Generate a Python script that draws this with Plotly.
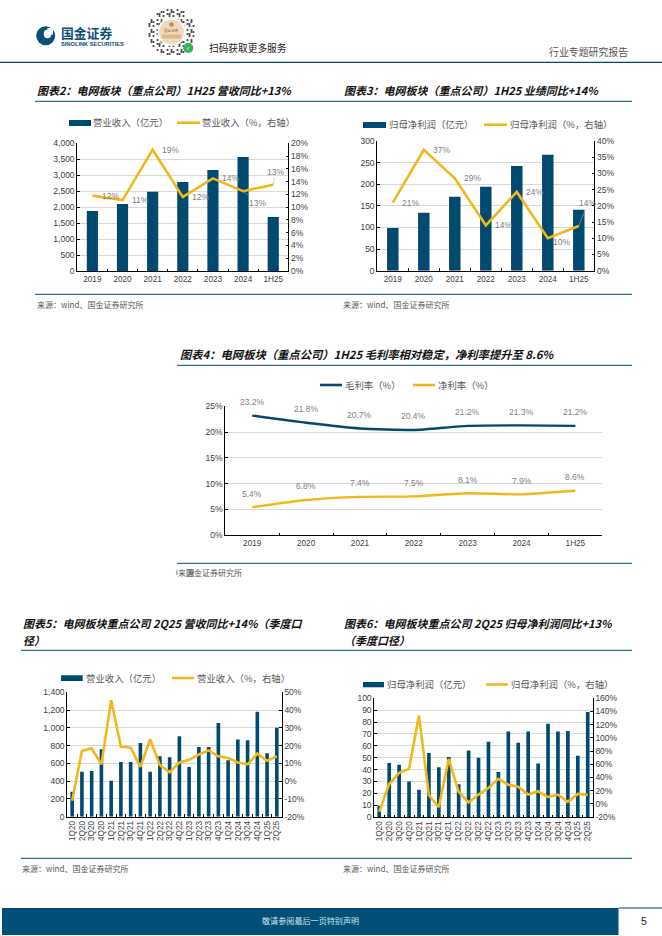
import plotly.graph_objects as go

W, H = 662, 936
NAVY = "#004A70"
GOLD = "#F2B71A"
GRID = "#D9D9D9"
TXT = "#404040"
LBL = "#7F7F7F"
CJK = "Noto Sans CJK SC"
SANS = "Liberation Sans"

# ---- data ----
years = ["2019", "2020", "2021", "2022", "2023", "2024", "1H25"]
quarters = ["1Q20", "2Q20", "3Q20", "4Q20", "1Q21", "2Q21", "3Q21", "4Q21", "1Q22", "2Q22", "3Q22",
            "4Q22", "1Q23", "2Q23", "3Q23", "4Q23", "1Q24", "2Q24", "3Q24", "4Q24", "1Q25", "2Q25"]

rev_bar = [1880, 2100, 2480, 2790, 3160, 3570, 1690]
rev_yoy = [11.8, 11.1, 19.0, 11.6, 14.5, 12.5, 13.5]
rev_lab = ["12%", "11%", "19%", "12%", "14%", "13%", "13%"]

np_bar = [99, 134, 171, 194, 242, 268, 141]
np_yoy = [21.0, 37.3, 28.5, 14.0, 24.3, 10.0, 13.8]
np_lab = ["21%", "37%", "29%", "14%", "24%", "10%", "14%"]

gross = [23.2, 21.8, 20.7, 20.4, 21.2, 21.3, 21.2]
net = [5.4, 6.8, 7.4, 7.5, 8.1, 7.9, 8.6]

q_rev = [280, 505, 515, 760, 405, 615, 615, 830, 505, 680, 670,
         905, 560, 785, 785, 1055, 635, 870, 860, 1180, 715, 1000]
q_rev_yoy = [-11, 17, 18.5, 9.5, 45.5, 19.5, 18.8, 8, 23.5, 9, 5,
             10.5, 12, 15, 17.3, 14, 13, 10.5, 9.5, 15.5, 11.5, 14]

q_np = [9.5, 45.5, 44, 30, 23, 54, 42, 50.5, 27.5, 56, 50,
        63.5, 38, 72, 62.5, 72, 45, 78.5, 72, 72.5, 51.5, 88.5]
q_np_yoy = [-12, 30, 47, 53, 134, 13, -5, 68, 18, 2, 14,
            24, 38, 29, 26, 14, 19, 10, 14, 3, 15, 13.5]

fig = go.Figure()
shapes, annos = [], []


def px(x):
    return x / W


def py(y):
    return 1 - y / H


def text(x, y, s, size=8, color=TXT, font=CJK, anchor="left"):
    annos.append(dict(x=px(x), y=py(y), xref="paper", yref="paper", text=s, showarrow=False,
                      xanchor=anchor, yanchor="middle", align="left",
                      font=dict(size=size, color=color, family=font),
                      borderpad=0, borderwidth=0))


def rect(x0, y0, x1, y1, color, layer="above"):
    shapes.append(dict(type="rect", xref="paper", yref="paper", x0=px(x0), x1=px(x1),
                       y0=py(y0), y1=py(y1), fillcolor=color, line=dict(width=0), layer=layer))


def hline(x0, x1, y, color=NAVY, width=1.0):
    shapes.append(dict(type="line", xref="paper", yref="paper", x0=px(x0), x1=px(x1),
                       y0=py(y), y1=py(y), line=dict(color=color, width=width), layer="above"))


def circle(cx, cy, rx, ry, color):
    shapes.append(dict(type="circle", xref="paper", yref="paper", x0=px(cx - rx), x1=px(cx + rx),
                       y0=py(cy - ry), y1=py(cy + ry), fillcolor=color, line=dict(width=0), layer="above"))


def axes(n, box, cats, left_vals, left_fmt, right_vals=None, rot=0):
    """Panel n gets axes x{n}, y{n}; right-hand axis is y{n+5}."""
    l, t, r, b = box
    dx = [px(l), px(r)]
    dy = [py(b), py(t)]
    fig.layout[f"xaxis{n}"] = dict(
        domain=dx, anchor=f"y{n}", type="category", categoryorder="array", categoryarray=cats,
        range=[-0.5, len(cats) - 0.5], dtick=1,
        showline=True, linecolor="#000000", linewidth=1, ticks="inside", ticklen=2.5, tickcolor="#000000",
        tickson="boundaries", showgrid=False, tickangle=rot, zeroline=False,
        tickfont=dict(size=8.2, color=TXT, family=SANS))
    fig.layout[f"yaxis{n}"] = dict(
        domain=dy, anchor=f"x{n}", range=[left_vals[0], left_vals[-1]], tickmode="array", tickvals=left_vals,
        ticktext=[left_fmt(v) for v in left_vals],
        showline=True, linecolor="#000000", linewidth=1, ticks="inside", ticklen=2.5, tickcolor="#000000",
        showgrid=True, gridcolor=GRID, gridwidth=1, zeroline=False,
        tickfont=dict(size=8.5, color=TXT, family=SANS))
    if right_vals is not None:
        fig.layout[f"yaxis{n + 5}"] = dict(
            domain=dy, anchor=f"x{n}", overlaying=f"y{n}", side="right",
            range=[right_vals[0], right_vals[-1]], tickmode="array", tickvals=right_vals,
            ticktext=[f"{v}%" for v in right_vals],
            showline=True, linecolor="#000000", linewidth=1, ticks="inside", ticklen=2.5, tickcolor="#000000",
            showgrid=False, zeroline=False, tickfont=dict(size=8.5, color=TXT, family=SANS))


def combo(n, cats, bars, line, bar_name, line_name, width=2.6):
    fig.add_trace(go.Bar(x=cats, y=bars, name=bar_name, marker=dict(color=NAVY, line=dict(width=0)),
                         xaxis=f"x{n}", yaxis=f"y{n}", showlegend=False))
    fig.add_trace(go.Scatter(x=cats, y=line, name=line_name, mode="lines",
                             line=dict(color=GOLD, width=width, shape="linear"),
                             xaxis=f"x{n}", yaxis=f"y{n + 5}", showlegend=False))


def legend(bar=None, line1=None, line2=None):
    if bar:
        x0, x1, y0, y1, tx, ty, s = bar
        rect(x0, y0, x1, y1, NAVY)
        text(tx, ty, s, size=9.4, color="#595959")
    for item, col in ((line1, NAVY), (line2, GOLD)):
        if item:
            x0, x1, y, tx, ty, s = item
            hline(x0, x1, y, col, 2.6)
            text(tx, ty, s, size=9.4, color="#595959")


def label(n, yaxis, idx, val, s, dx, dy, leader=False):
    a = dict(x=idx, y=val, xref=f"x{n}", yref=f"y{yaxis}", text=s,
             font=dict(size=8.5, color=LBL, family=SANS))
    if leader:
        a.update(showarrow=True, ax=dx, ay=-dy, arrowhead=0, arrowwidth=0.6, arrowcolor="#A6A6A6", standoff=0)
    else:
        a.update(showarrow=False, xshift=dx, yshift=dy, xanchor="center", yanchor="middle")
    annos.append(a)


# ---- panel 2 ----
axes(1, (77.3, 143.3, 288.3, 271), years, [0, 500, 1000, 1500, 2000, 2500, 3000, 3500, 4000],
     lambda v: f"{v:,}", [0, 2, 4, 6, 8, 10, 12, 14, 16, 18, 20])
combo(1, years, rev_bar, rev_yoy, "营业收入（亿元）", "营业收入（%，右轴）")
for i, (v, s) in enumerate(zip(rev_yoy, rev_lab)):
    if i == 5:
        label(1, 6, i, v, s, 14, -12, True)
    elif i == 6:
        label(1, 6, i, v, s, 2, 13, True)
    else:
        label(1, 6, i, v, s, 18, 0)

# ---- panel 3 ----
axes(2, (377.3, 141, 594.3, 270.7), years, [0, 50, 100, 150, 200, 250, 300],
     lambda v: f"{v}", [0, 5, 10, 15, 20, 25, 30, 35, 40])
combo(2, years, np_bar, np_yoy, "归母净利润（亿元）", "归母净利润（%，右轴）")
for i, (v, s) in enumerate(zip(np_yoy, np_lab)):
    if i == 5:
        label(2, 7, i, v, s, 14, -4)
    elif i == 6:
        label(2, 7, i, v, s, 9, 23, True)
    else:
        label(2, 7, i, v, s, 17.5, 0)

# ---- panel 4 ----
axes(3, (225.3, 406.3, 602.3, 535), years, [0, 5, 10, 15, 20, 25], lambda v: f"{v}%")
fig.add_trace(go.Scatter(x=years, y=gross, name="毛利率（%）", mode="lines",
                         line=dict(color=NAVY, width=2.4, shape="spline", smoothing=0.5),
                         xaxis="x3", yaxis="y3", showlegend=False))
fig.add_trace(go.Scatter(x=years, y=net, name="净利率（%）", mode="lines",
                         line=dict(color=GOLD, width=2.4, shape="spline", smoothing=0.5),
                         xaxis="x3", yaxis="y3", showlegend=False))
for i, v in enumerate(gross):
    label(3, 3, i, v, f"{v:.1f}%", 0, 13.5)
for i, v in enumerate(net):
    label(3, 3, i, v, f"{v:.1f}%", 0, 13.5)

# ---- panel 5 ----
axes(4, (67.3, 692.3, 281.7, 816.7), quarters, [0, 200, 400, 600, 800, 1000, 1200, 1400],
     lambda v: f"{v:,}", [-20, -10, 0, 10, 20, 30, 40, 50], rot=-90)
combo(4, quarters, q_rev, q_rev_yoy, "营业收入（亿元）", "营业收入（%，右轴）")

# ---- panel 6 ----
axes(5, (374.3, 698.3, 592.7, 817), quarters, [0, 10, 20, 30, 40, 50, 60, 70, 80, 90, 100],
     lambda v: f"{v}", [-20, 0, 20, 40, 60, 80, 100, 120, 140, 160], rot=-90)
combo(5, quarters, q_np, q_np_yoy, "归母净利润（亿元）", "归母净利润（%，右轴）")

# ---- hand-placed legends ----
legend(bar=(69, 91, 120, 126, 93, 122, "营业收入（亿元）"),
       line2=(177, 200, 122.7, 202, 122, "营业收入（%，右轴）"))
legend(bar=(363, 386, 122, 128, 389, 124, "归母净利润（亿元）"),
       line2=(484, 507, 124.7, 510, 124, "归母净利润（%，右轴）"))
legend(line1=(320, 342, 385, 345, 384.5, "毛利率（%）"),
       line2=(413, 435, 385, 438, 384.5, "净利率（%）"))
legend(bar=(61, 82.7, 675.3, 681, 85.7, 678, "营业收入（亿元）"),
       line2=(172, 194, 678, 197, 678, "营业收入（%，右轴）"))
legend(bar=(363, 384, 682, 687.3, 387, 684, "归母净利润（亿元）"),
       line2=(486, 508, 684.5, 511, 684, "归母净利润（%，右轴）"))

# ---- titles, rules, sources ----
def title(x, y, s, size=11):
    text(x, y, f"<b><i>{s}</i></b>", size=size, color="#111111")


title(37, 90, "图表2：电网板块（重点公司）1H25 营收同比+13%")
title(344, 90, "图表3：电网板块（重点公司）1H25 业绩同比+14%")
title(180, 354, "图表4：电网板块（重点公司）1H25 毛利率相对稳定，净利率提升至 8.6%", size=11.3)
title(23, 622.7, "图表5：电网板块重点公司 2Q25 营收同比+14%（季度口")
title(23, 640, "径）")
title(344, 622.7, "图表6：电网板块重点公司 2Q25 归母净利润同比+13%")
title(344, 640, "（季度口径）")

hline(35, 632, 101.3)
hline(35, 632, 294.3)
hline(177, 632, 365.3)
hline(177, 632, 563.3)
hline(21, 632, 650.3)
hline(21, 632, 858.3)

SRC = "来源：wind、国金证券研究所"
text(36.7, 305, SRC, size=8, color="#595959")
text(343, 305, SRC, size=8, color="#595959")
text(22, 868, SRC, size=8, color="#595959")
text(343, 868, SRC, size=8, color="#595959")
# overprinted source line under panel 4
text(176, 572.7, "i", size=7.5, color="#404040", font=SANS)
text(178, 572.7, "来源", size=8, color="#595959")
text(186, 572.7, "国金证券研究所", size=8, color="#595959")

# ---- page furniture ----
hline(0, W, 62.3, NAVY, 1.2)
circle(45.7, 35.7, 9.5, 9.5, "#0B4F77")
rect(47.5, 28, 53, 34.5, "#FFFFFF")
circle(47.5, 34, 3.8, 4.2, "#FFFFFF")
text(61, 33, "<b>国金证券</b>", size=12.8, color="#0B4F77")
text(61, 44.2, "<b>SINOLINK SECURITIES</b>", size=5.7, color="#0B4F77", font=SANS)

# QR badge (decorative): ring of modules with a tan centre
cx, cy, R = 171.5, 32, 25
for i in range(-12, 13):
    for j in range(-12, 13):
        d2 = i * i + j * j
        if d2 <= 144 and (i * 7 + j * 13 + i * j) % 5 in (0, 2):
            x = cx + i * 2.0
            y = cy + j * 2.0
            rect(x - 0.9, y - 0.9, x + 0.9, y + 0.9, "#3A3A3A")
circle(cx, cy, 14, 14, "#FFFFFF")
circle(cx, cy, 12.5, 12.5, "#F1D9BE")
rect(162, 34.5, 181, 38.5, "#DDB78F")
circle(cx, 24.5, 2.3, 2.3, "#C08A4C")
text(cx, 30.5, "国金证券", size=3.6, color="#8A5A2B", anchor="center")
circle(188.3, 48, 5, 5, "#2EB85C")
text(188.3, 48, "<b>✓</b>", size=5, color="#FFFFFF", font="DejaVu Sans", anchor="center")

text(208.5, 47.7, "扫码获取更多服务", size=9.7, color="#222222")
text(549, 52.3, "行业专题研究报告", size=9.9, color="#555555")

rect(2, 908, 618.5, 935, "#005078")
hline(618.5, W, 908, NAVY, 1)
text(310.5, 920.5, "敬请参阅最后一页特别声明", size=8.1, color="#D7E3EA", anchor="center")
text(644, 920.5, "5", size=10.5, color="#222222", font=SANS, anchor="center")

fig.update_layout(width=W, height=H, margin=dict(l=0, r=0, t=0, b=0, pad=0, autoexpand=False), autosize=False,
                  paper_bgcolor="#FFFFFF", plot_bgcolor="rgba(0,0,0,0)", barmode="group",
                  bargap=0.63, showlegend=False, shapes=shapes, annotations=annos,
                  font=dict(family=SANS))

POST = """
document.documentElement.style.margin='0';
document.documentElement.style.overflow='hidden';
document.body.style.margin='0';
var gd=document.querySelector('.plotly-graph-div');
gd.style.position='fixed';gd.style.left='0';gd.style.top='0';gd.style.width='662px';gd.style.height='936px';
"""
fig.write_html("out.html", config=dict(displayModeBar=False), post_script=POST)
